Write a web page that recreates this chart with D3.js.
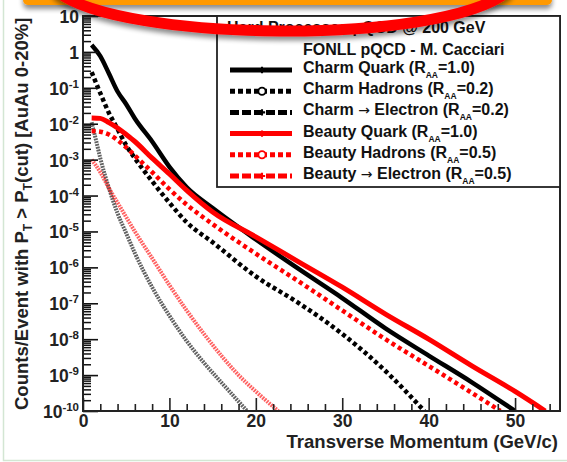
<!DOCTYPE html>
<html>
<head>
<meta charset="utf-8">
<script src="https://cdn.jsdelivr.net/npm/d3@7"></script>
<style>
  html, body { margin: 0; padding: 0; background: #fff; }
  svg { display: block; font-family: "Liberation Sans", Arial, Helvetica, sans-serif; font-weight: bold; }
</style>
</head>
<body>
<svg id="chart" width="567" height="462"></svg>
<script>
// FONLL pQCD spectra: [pT (GeV/c), counts/event above pT]
const charmQuark = [[1,1.55],[2,0.76],[3,0.25],[4,0.079],[5,0.035],[6,0.014],[8,3.2e-3],[10,6.3e-4],[12,1.7e-4],[15,4.5e-5],[20,6.0e-6],[25,8.9e-7],[30,1.4e-7],[35,2.0e-8],[40,3.5e-9],[45,6.3e-10],[50,1.0e-10]];
const charmHadrons = [[1,0.275],[2,0.071],[3,0.020],[4,7.1e-3],[5,2.5e-3],[6,1.1e-3],[8,2.5e-4],[10,6.3e-5],[12,1.8e-5],[15,5.0e-6],[20,5.6e-7],[25,1.0e-7],[30,1.4e-8],[35,1.3e-9],[39.5,1.0e-10]];
const charmElectron = [[1,0.011],[1.5,3.5e-3],[2,1.1e-3],[3,1.6e-4],[4,3.2e-5],[5,8.9e-6],[6,2.5e-6],[8,2.8e-7],[10,4.5e-8],[12,8.9e-9],[14,2.2e-9],[16,6.3e-10],[19,1.0e-10]];
const beautyQuark = [[1,0.0145],[2,0.0141],[3,0.0107],[4,7.6e-3],[5,5.0e-3],[6,3.2e-3],[8,1.1e-3],[10,4.0e-4],[12,1.4e-4],[15,3.5e-5],[20,7.1e-6],[25,1.4e-6],[30,2.8e-7],[35,5.0e-8],[40,1.0e-8],[45,1.8e-9],[50,3.5e-10],[53.5,1.0e-10]];
const beautyHadrons = [[1,6.3e-3],[2,6.0e-3],[3,5.0e-3],[4,3.5e-3],[5,2.2e-3],[6,1.3e-3],[8,4.5e-4],[10,1.5e-4],[12,5.6e-5],[15,1.6e-5],[20,2.4e-6],[25,4.0e-7],[30,6.3e-8],[35,1.0e-8],[40,1.8e-9],[45,3.2e-10],[48.3,1.0e-10]];
const beautyElectron = [[1,1.0e-3],[2,4.5e-4],[3,1.6e-4],[4,6.3e-5],[5,2.5e-5],[6,1.0e-5],[8,1.8e-6],[10,3.2e-7],[12,6.3e-8],[14,1.4e-8],[16,3.5e-9],[18,1.0e-9],[20,3.5e-10],[22.6,1.0e-10]];

const legendLabels = ["Charm Quark", "Charm Hadrons", "Charm \u2192 Electron", "Beauty Quark", "Beauty Hadrons", "Beauty \u2192 Electron"];
const legendRaa = ["1.0", "0.2", "0.2", "1.0", "0.5", "0.5"];
const xTickValues = [0, 10, 20, 30, 40, 50];
const xTickLabels = ["0", "10", "20", "30", "40", "50"];
const yDecades = [1, 0, -1, -2, -3, -4, -5, -6, -7, -8, -9, -10];

const series = [charmQuark, charmHadrons, charmElectron, beautyQuark, beautyHadrons, beautyElectron];

// Drawing styles per series (same order as the legend)
const styles = [
  { color: "#000", width: 4.5, dash: null, opacity: 1, kind: "solid" },
  { color: "#000", width: 4.5, dash: "4,3", opacity: 1, kind: "dots" },
  { color: "#000", width: 4, dash: "1.8,1", opacity: 0.62, kind: "beads", legendDash: "9,3" },
  { color: "#f00", width: 5, dash: null, opacity: 1, kind: "solid" },
  { color: "#f00", width: 4.5, dash: "4,3.4", opacity: 1, kind: "dots" },
  { color: "#f00", width: 4, dash: "1.8,1", opacity: 0.62, kind: "beads", legendDash: "9,3" }
];

const m = { left: 83, right: 560, top: 16, bottom: 411 };

const svg = d3.select("#chart");
const defs = svg.append("defs");

const shadow = defs.append("filter").attr("id", "shadow")
  .attr("x", "-10%").attr("y", "-50%").attr("width", "120%").attr("height", "200%");
shadow.append("feGaussianBlur").attr("in", "SourceAlpha").attr("stdDeviation", 2.5).attr("result", "b");
shadow.append("feOffset").attr("in", "b").attr("dy", 4).attr("result", "o");
shadow.append("feComponentTransfer").attr("in", "o").attr("result", "s")
  .append("feFuncA").attr("type", "linear").attr("slope", 0.45);
const merge = shadow.append("feMerge");
merge.append("feMergeNode").attr("in", "s");
merge.append("feMergeNode").attr("in", "SourceGraphic");

defs.append("clipPath").attr("id", "plotClip")
  .append("rect").attr("x", m.left).attr("y", m.top)
  .attr("width", m.right - m.left).attr("height", m.bottom - m.top);

// slide frame and header strip
svg.append("rect").attr("x", 3.5).attr("y", -20).attr("width", 600).attr("height", 480.5)
  .attr("fill", "none").attr("stroke", "#d3e6d3").attr("stroke-width", 1.5);
svg.append("rect").attr("x", 23).attr("y", -20).attr("width", 529).attr("height", 25)
  .attr("rx", 5).attr("fill", "#ff9900").attr("filter", "url(#shadow)");

const x = d3.scaleLinear().domain([0, 55.2]).range([m.left, m.right]);
const y = d3.scaleLog().domain([1e-10, 10]).range([m.bottom, m.top]);

// curves
const line = d3.line()
  .x(d => x(d[0])).y(d => y(d[1]))
  .curve(d3.curveMonotoneX);

const plot = svg.append("g").attr("clip-path", "url(#plotClip)");
series.forEach((s, i) => {
  const st = styles[i];
  plot.append("path").datum(s)
    .attr("d", line)
    .attr("fill", "none")
    .attr("stroke", st.color)
    .attr("stroke-width", st.width)
    .attr("stroke-opacity", st.opacity)
    .attr("stroke-dasharray", st.dash)
    .attr("stroke-linejoin", "round");
});

// x axis: major and minor ticks pointing into the frame
const xAxis = d3.axisBottom(x).tickValues(xTickValues)
  .tickFormat((d, i) => xTickLabels[i]).tickSizeInner(-13).tickSizeOuter(0).tickPadding(4);
const gx = svg.append("g").attr("transform", `translate(0,${m.bottom})`).call(xAxis);
gx.select(".domain").remove();
gx.selectAll("line").attr("stroke", "#222").attr("stroke-width", 1.6);
gx.selectAll("text").attr("font-size", 17.5).attr("font-weight", "bold").attr("fill", "#222")
  .attr("font-family", '"Liberation Sans", Arial, sans-serif');

const gxm = svg.append("g").attr("transform", `translate(0,${m.bottom})`)
  .call(d3.axisBottom(x).tickValues(d3.range(0, 55.2, 2).filter(v => v % 10 !== 0))
    .tickFormat("").tickSizeInner(-7).tickSizeOuter(0));
gxm.select(".domain").remove();
gxm.selectAll("line").attr("stroke", "#222").attr("stroke-width", 1.6);

// y axis: decade ticks and 2..9 minor ticks
const decadeVals = yDecades.map(e => Math.pow(10, e));
const gy = svg.append("g").attr("transform", `translate(${m.left},0)`)
  .call(d3.axisLeft(y).tickValues(decadeVals).tickFormat("").tickSizeInner(-15).tickSizeOuter(0));
gy.select(".domain").remove();
gy.selectAll("line").attr("stroke", "#111").attr("stroke-width", 1.6);

const minorY = [];
yDecades.slice(1).forEach(e => { for (let k = 2; k <= 9; k++) minorY.push(k * Math.pow(10, e)); });
const gym = svg.append("g").attr("transform", `translate(${m.left},0)`)
  .call(d3.axisLeft(y).tickValues(minorY).tickFormat("").tickSizeInner(-8).tickSizeOuter(0));
gym.select(".domain").remove();
gym.selectAll("line").attr("stroke", "#111").attr("stroke-width", 1.5);

// y tick labels with exponents
const ylab = svg.append("g").attr("fill", "#222");
yDecades.forEach(e => {
  const t = ylab.append("text").attr("x", 79).attr("y", y(Math.pow(10, e)) + 7)
    .attr("text-anchor", "end").attr("font-size", 17.5);
  if (e === 0) { t.text("1"); return; }
  t.append("tspan").text("10");
  if (e !== 1) {
    t.append("tspan").attr("font-size", 11.5).attr("dy", -7).text(String(e));
  }
});

// frame
svg.append("rect").attr("x", m.left).attr("y", m.top)
  .attr("width", m.right - m.left).attr("height", m.bottom - m.top)
  .attr("fill", "none").attr("stroke", "#222").attr("stroke-width", 2);

// axis titles
svg.append("text").attr("x", 558).attr("y", 448).attr("text-anchor", "end")
  .attr("font-size", 18.5).attr("fill", "#222").text("Transverse Momentum (GeV/c)");

const yt = svg.append("text").attr("transform", "translate(28,410) rotate(-90)")
  .attr("font-size", 18.5).attr("fill", "#222");
yt.append("tspan").text("Counts/Event with P");
yt.append("tspan").attr("font-size", 12).attr("dy", 4).text("T");
yt.append("tspan").attr("dy", -4).text(" > P");
yt.append("tspan").attr("font-size", 12).attr("dy", 4).text("T");
yt.append("tspan").attr("dy", -4).text("(cut) [AuAu 0-20%]");

// legend
const lg = svg.append("g");
lg.append("rect").attr("x", 217).attr("y", m.top).attr("width", m.right - 217).attr("height", 171)
  .attr("fill", "#fff").attr("stroke", "#222").attr("stroke-width", 1.8);
lg.append("text").attr("x", 227).attr("y", 33).attr("font-size", 16).attr("fill", "#111")
  .text("Hard Processes pQCD @ 200 GeV");
lg.append("text").attr("x", 303).attr("y", 55).attr("font-size", 16).attr("fill", "#111")
  .text("FONLL pQCD - M. Cacciari");

legendLabels.forEach((lab, i) => {
  const base = 73 + i * 21.2;
  const st = styles[i];
  const ly = base - 3;
  lg.append("line").attr("x1", 230).attr("x2", 292).attr("y1", ly).attr("y2", ly)
    .attr("stroke", st.color).attr("stroke-width", 5)
    .attr("stroke-dasharray", st.kind === "dots" ? "5,3" : (st.kind === "beads" ? st.legendDash : null));
  if (st.kind === "dots") {
    lg.append("circle").attr("cx", 262).attr("cy", ly).attr("r", 3.6)
      .attr("fill", "#fff").attr("stroke", st.color).attr("stroke-width", 1.8);
  } else {
    lg.append("path").attr("transform", `translate(262,${ly})`)
      .attr("d", d3.symbol(d3.symbolCross, 22)()).attr("fill", st.color);
  }
  const t = lg.append("text").attr("x", 303).attr("y", base).attr("font-size", 16).attr("fill", "#111");
  // the arrow glyph is taken from DejaVu Sans, which draws it full width
  lab.split("\u2192").forEach((part, j) => {
    if (j > 0) {
      t.append("tspan").attr("font-family", '"DejaVu Sans", sans-serif')
        .attr("font-weight", "normal").attr("font-size", 14).text("\u2192");
    }
    t.append("tspan").text(part);
  });
  t.append("tspan").text(" (R");
  t.append("tspan").attr("font-size", 8.5).attr("dy", 5).text("AA");
  t.append("tspan").attr("dy", -5).text("=" + legendRaa[i] + ")");
});

// highlight ring across the top
svg.append("path")
  .attr("d", "M 58,-8 C 120,42 440,46 507,-8")
  .attr("fill", "none").attr("stroke", "#ff0000").attr("stroke-width", 11)
  .attr("stroke-linecap", "round").attr("filter", "url(#shadow)");
</script>
</body>
</html>
